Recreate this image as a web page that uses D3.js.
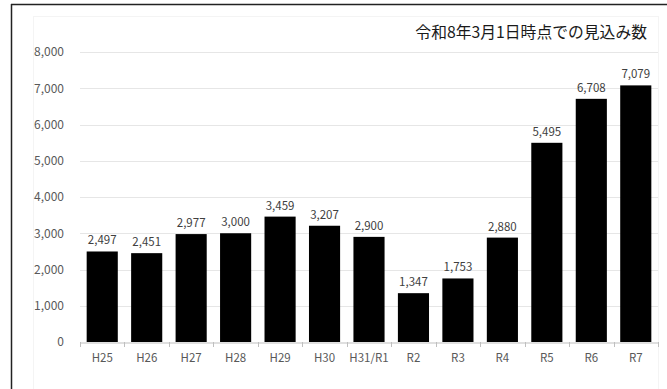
<!DOCTYPE html>
<html><head><meta charset="utf-8">
<script src="https://cdn.jsdelivr.net/npm/d3@7"></script>
<style>body{margin:0;background:#fff;}svg{display:block;}</style>
</head><body>
<svg id="c" width="667" height="389"></svg>
<script>
const categories = ["H25","H26","H27","H28","H29","H30","H31/R1","R2","R3","R4","R5","R6","R7"];
const values = [2497,2451,2977,3000,3459,3207,2900,1347,1753,2880,5495,6708,7079];
const yTicks = [0,1000,2000,3000,4000,5000,6000,7000,8000];
const title = "令和8年3月1日時点での見込み数";

const svg = d3.select("#c");
const font = "'Noto Sans CJK JP','Noto Sans',sans-serif";
// outer frame
svg.append("rect").attr("x",33.5).attr("y",16.5).attr("width",625).attr("height",380)
  .attr("fill","none").attr("stroke","#f4f4f4");
svg.append("line").attr("x1",11).attr("x2",667).attr("y1",4.5).attr("y2",4.5).attr("stroke","#222").attr("stroke-width",1.5);
svg.append("line").attr("x1",11.5).attr("x2",11.5).attr("y1",4).attr("y2",389).attr("stroke","#222").attr("stroke-width",1.5);

const x = d3.scaleBand().domain(categories).range([80,658]).paddingInner(0.3).paddingOuter(0.15);
const y = d3.scaleLinear().domain([0,8000]).range([342,52]);

// gridlines
svg.append("g").selectAll("line").data(yTicks.filter(d=>d>0)).join("line")
  .attr("x1",80).attr("x2",658).attr("y1",d=>Math.round(y(d))+0.5).attr("y2",d=>Math.round(y(d))+0.5)
  .attr("stroke","#e6e6e6").attr("stroke-width",1);

// y axis labels
const ya = svg.append("g").attr("transform","translate(64,0)")
  .call(d3.axisLeft(y).tickValues(yTicks).tickSize(0).tickPadding(0).tickFormat(d3.format(",")));
ya.select(".domain").remove();
ya.selectAll("text").attr("font-family",font).attr("font-size",12).attr("fill","#595959");

// bars
svg.append("g").selectAll("rect").data(values).join("rect")
  .attr("x",(d,i)=>x(categories[i])).attr("width",x.bandwidth())
  .attr("y",d=>y(d)).attr("height",d=>y(0)-y(d)).attr("fill","#000");

// x axis
const xa = svg.append("g").attr("transform",`translate(0,${Math.round(y(0))+0.5})`)
  .call(d3.axisBottom(x).tickSize(0).tickPadding(11));
xa.select(".domain").attr("stroke","#bfbfbf");
xa.selectAll("text").attr("font-family",font).attr("font-size",11.5).attr("fill","#595959");
// tick marks at band boundaries
const bounds = categories.map(c=>x(c)-x.step()*x.paddingInner()/2).concat([658]);
svg.append("g").selectAll("line").data(bounds).join("line")
  .attr("x1",d=>Math.round(d)+0.5).attr("x2",d=>Math.round(d)+0.5)
  .attr("y1",Math.round(y(0))).attr("y2",Math.round(y(0))+5).attr("stroke","#bfbfbf");

// data labels
svg.append("g").selectAll("text").data(values).join("text")
  .attr("x",(d,i)=>x(categories[i])+x.bandwidth()/2).attr("y",d=>y(d)-7)
  .attr("text-anchor","middle").attr("font-family",font).attr("font-size",11.5).attr("fill","#404040")
  .text(d=>d3.format(",")(d));

// title
svg.append("text").attr("x",647).attr("y",38).attr("text-anchor","end")
  .attr("font-family",font).attr("font-size",15.8).attr("fill","#1a1a1a").text(title);
</script>
</body></html>
